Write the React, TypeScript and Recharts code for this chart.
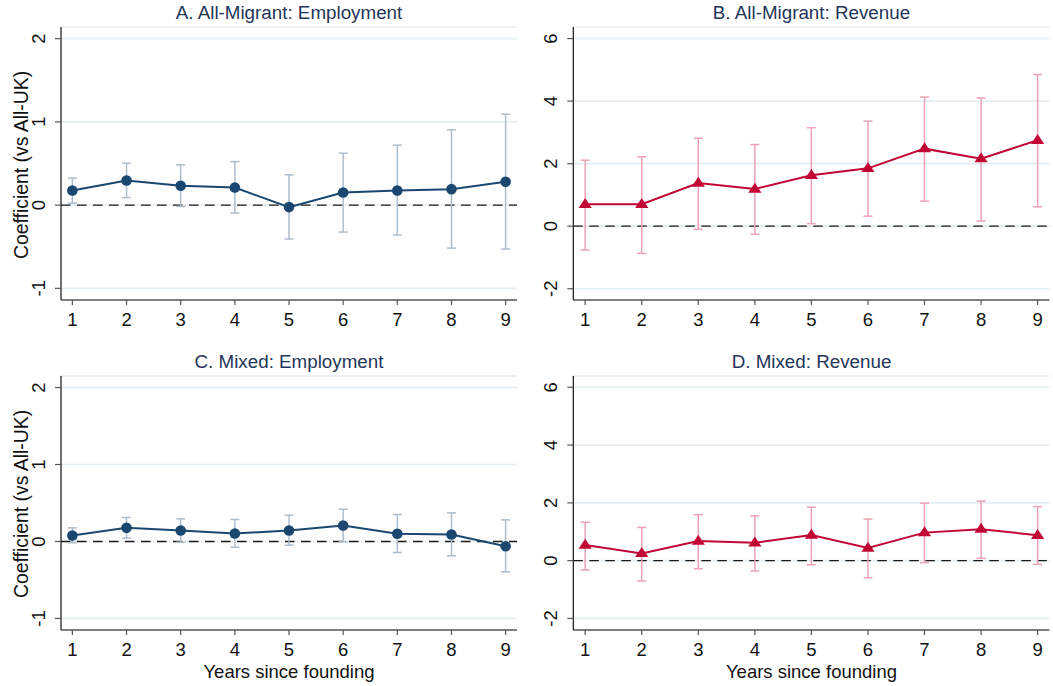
import React from "react";
import {
  LineChart,
  Line,
  XAxis,
  YAxis,
  CartesianGrid,
  ReferenceLine,
  ErrorBar,
} from "recharts";

// Years since founding
const years = [1, 2, 3, 4, 5, 6, 7, 8, 9];

// A. All-Migrant: Employment
const empAllCoef = [0.175, 0.295, 0.232, 0.211, -0.024, 0.151, 0.175, 0.192, 0.28];
const empAllLo = [0.024, 0.091, -0.016, -0.096, -0.408, -0.324, -0.36, -0.516, -0.528];
const empAllHi = [0.324, 0.504, 0.484, 0.523, 0.364, 0.624, 0.72, 0.904, 1.092];

// B. All-Migrant: Revenue
const revAllCoef = [0.7, 0.7, 1.38, 1.19, 1.63, 1.85, 2.48, 2.16, 2.75];
const revAllLo = [-0.76, -0.87, -0.1, -0.26, 0.08, 0.32, 0.8, 0.17, 0.62];
const revAllHi = [2.11, 2.22, 2.81, 2.61, 3.15, 3.36, 4.13, 4.1, 4.85];

// C. Mixed: Employment
const empMixCoef = [0.078, 0.177, 0.143, 0.104, 0.143, 0.208, 0.1, 0.091, -0.061];
const empMixLo = [-0.017, 0.043, -0.009, -0.074, -0.048, -0.004, -0.143, -0.186, -0.394];
const empMixHi = [0.177, 0.312, 0.294, 0.286, 0.342, 0.42, 0.35, 0.372, 0.281];

// D. Mixed: Revenue
const revMixCoef = [0.54, 0.25, 0.68, 0.62, 0.89, 0.44, 0.97, 1.09, 0.88];
const revMixLo = [-0.32, -0.7, -0.28, -0.36, -0.14, -0.59, -0.07, 0.08, -0.13];
const revMixHi = [1.33, 1.15, 1.59, 1.55, 1.85, 1.44, 1.99, 2.06, 1.87];

const empTicks = [-1, 0, 1, 2];
const revTicks = [-2, 0, 2, 4, 6];

const FONT = "'Liberation Sans', Arial, Helvetica, sans-serif";
const NAVY = "#1a476f";
const NAVY_CI = "#aebdcc";
const RED = "#c10534";
const RED_CI = "#eca2b4";
const TITLE = "#1f3559";
const TICK_FS = 18.5;

function buildRows(coef: number[], lo: number[], hi: number[]) {
  return years.map((yr, i) => ({
    year: yr,
    coef: coef[i],
    ci: [coef[i] - lo[i], hi[i] - coef[i]],
  }));
}

const YTick = (props: any) => {
  const { x, y, payload } = props;
  const cx = x - 16.5;
  return (
    <text
      x={cx}
      y={y}
      transform={`rotate(-90 ${cx} ${y})`}
      textAnchor="middle"
      dominantBaseline="central"
      fontSize={TICK_FS}
      fontFamily={FONT}
      fill="#111"
    >
      {payload.value}
    </text>
  );
};

const CircleDot = (props: any) => {
  const { cx, cy } = props;
  if (cx == null || cy == null) return null;
  return <circle cx={cx} cy={cy} r={5.3} fill={NAVY} />;
};

const TriangleDot = (props: any) => {
  const { cx, cy } = props;
  if (cx == null || cy == null) return null;
  const pts = `${cx},${cy - 6.3} ${cx - 6.6},${cy + 3.7} ${cx + 6.6},${cy + 3.7}`;
  return <polygon points={pts} fill={RED} />;
};

type PanelProps = {
  left: number;
  top: number;
  width: number;
  height: number;
  margin: { top: number; right: number; bottom: number; left: number };
  yAxisWidth: number;
  domain: [number, number];
  ticks: number[];
  rows: any[];
  color: string;
  ciColor: string;
  dot: any;
};

const Panel = (p: PanelProps) => (
  <div style={{ position: "absolute", left: p.left, top: p.top }}>
    <LineChart width={p.width} height={p.height} data={p.rows} margin={p.margin}>
      <CartesianGrid
        horizontal
        vertical={false}
        stroke="#e4edf1"
        strokeWidth={1.7}
      />
      <XAxis
        dataKey="year"
        type="number"
        domain={[0.79, 9.21]}
        ticks={years}
        height={30}
        tickSize={5}
        tickMargin={8}
        axisLine={{ stroke: "#111", strokeWidth: 1.2 }}
        tickLine={{ stroke: "#555", strokeWidth: 1.2 }}
        tick={{ fontSize: TICK_FS, fontFamily: FONT, fill: "#111" }}
        allowDataOverflow
      />
      <YAxis
        type="number"
        domain={p.domain}
        ticks={p.ticks}
        width={p.yAxisWidth}
        tickSize={6}
        tickMargin={0}
        axisLine={{ stroke: "#111", strokeWidth: 1.2 }}
        tickLine={{ stroke: "#555", strokeWidth: 1.2 }}
        tick={<YTick />}
        allowDataOverflow
      />
      <ReferenceLine y={0} stroke="#1a1a1a" strokeWidth={1.3} strokeDasharray="9.5 6.5" />
      <Line
        dataKey="coef"
        stroke={p.color}
        strokeWidth={2}
        dot={p.dot}
        activeDot={false}
        isAnimationActive={false}
      >
        <ErrorBar
          dataKey="ci"
          direction="y"
          width={4.5}
          stroke={p.ciColor}
          strokeWidth={1.5}
          isAnimationActive={false}
        />
      </Line>
    </LineChart>
  </div>
);

export default function App() {
  const title = { fontFamily: FONT, fontSize: 18.8, fill: TITLE } as const;
  const axisTitle = { fontFamily: FONT, fill: "#111" } as const;
  return (
    <div
      style={{
        position: "absolute",
        left: 0,
        top: 0,
        width: 1053,
        height: 686,
        background: "#fff",
      }}
    >
      <Panel
        left={0}
        top={0}
        width={530}
        height={340}
        margin={{ top: 27, right: 13, bottom: 10, left: 0 }}
        yAxisWidth={61}
        domain={[-1.14, 2.14]}
        ticks={empTicks}
        rows={buildRows(empAllCoef, empAllLo, empAllHi)}
        color={NAVY}
        ciColor={NAVY_CI}
        dot={<CircleDot />}
      />
      <Panel
        left={525}
        top={0}
        width={528}
        height={340}
        margin={{ top: 27, right: 3.5, bottom: 10, left: 0 }}
        yAxisWidth={48.3}
        domain={[-2.36, 6.37]}
        ticks={revTicks}
        rows={buildRows(revAllCoef, revAllLo, revAllHi)}
        color={RED}
        ciColor={RED_CI}
        dot={<TriangleDot />}
      />
      <Panel
        left={0}
        top={340}
        width={530}
        height={340}
        margin={{ top: 36, right: 13, bottom: 20, left: 0 }}
        yAxisWidth={61}
        domain={[-1.15, 2.15]}
        ticks={empTicks}
        rows={buildRows(empMixCoef, empMixLo, empMixHi)}
        color={NAVY}
        ciColor={NAVY_CI}
        dot={<CircleDot />}
      />
      <Panel
        left={525}
        top={340}
        width={528}
        height={340}
        margin={{ top: 36, right: 3.5, bottom: 20, left: 0 }}
        yAxisWidth={48.3}
        domain={[-2.4, 6.39]}
        ticks={revTicks}
        rows={buildRows(revMixCoef, revMixLo, revMixHi)}
        color={RED}
        ciColor={RED_CI}
        dot={<TriangleDot />}
      />
      <svg
        width={1053}
        height={686}
        style={{ position: "absolute", left: 0, top: 0, pointerEvents: "none" }}
      >
        <text x={289} y={12.3} textAnchor="middle" dominantBaseline="central" {...title}>
          A. All-Migrant: Employment
        </text>
        <text x={811.5} y={12.3} textAnchor="middle" dominantBaseline="central" {...title}>
          B. All-Migrant: Revenue
        </text>
        <text x={289} y={361.5} textAnchor="middle" dominantBaseline="central" {...title}>
          C. Mixed: Employment
        </text>
        <text x={811.5} y={361.5} textAnchor="middle" dominantBaseline="central" {...title}>
          D. Mixed: Revenue
        </text>
        <text
          x={20.5}
          y={165}
          transform="rotate(-90 20.5 165)"
          textAnchor="middle"
          dominantBaseline="central"
          fontSize={19.4}
          {...axisTitle}
        >
          Coefficient (vs All-UK)
        </text>
        <text
          x={20.5}
          y={504}
          transform="rotate(-90 20.5 504)"
          textAnchor="middle"
          dominantBaseline="central"
          fontSize={19.4}
          {...axisTitle}
        >
          Coefficient (vs All-UK)
        </text>
        <text x={289} y={671.8} textAnchor="middle" dominantBaseline="central" fontSize={18.5} {...axisTitle}>
          Years since founding
        </text>
        <text x={811.5} y={671.8} textAnchor="middle" dominantBaseline="central" fontSize={18.5} {...axisTitle}>
          Years since founding
        </text>
      </svg>
    </div>
  );
}
